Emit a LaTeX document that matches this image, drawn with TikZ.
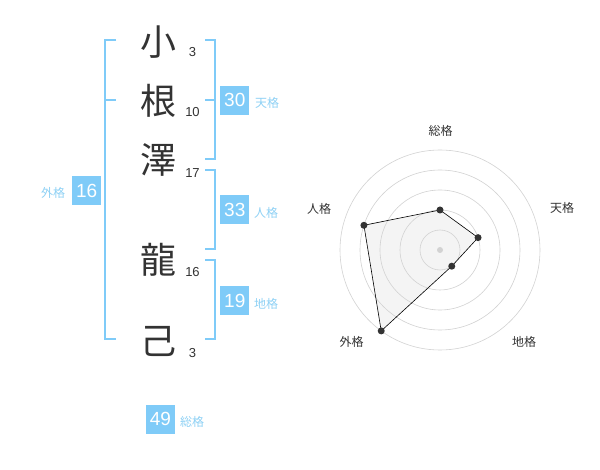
\documentclass[tikz,border=0pt]{standalone}
\usepackage{fontspec}
\setmainfont{Liberation Sans}
\newfontfamily\jp{Noto Sans CJK JP}
\definecolor{kaku}{HTML}{7FCBF8}
\definecolor{kakutext}{HTML}{8ED1F5}
\definecolor{ink}{HTML}{333333}
\begin{document}
\begin{tikzpicture}[
    x=1pt, y=-1pt,
    char/.style={font=\jp\fontsize{36}{36}\selectfont, text=ink, inner sep=0pt},
    strokes/.style={font=\fontsize{13}{13}\selectfont, text=ink, inner sep=0pt},
    numbox/.style={fill=kaku, text=white, minimum size=29pt, inner sep=0pt, font=\fontsize{19}{19}\selectfont},
    kakulabel/.style={font=\jp\fontsize{12}{12}\selectfont, text=kakutext, inner sep=0pt},
    bracket/.style={draw=kaku, line width=2pt},
    ring/.style={draw=gray!35, line width=0.6pt},
    axislabel/.style={font=\jp\fontsize{12}{12}\selectfont, text=ink, inner sep=0pt},
    vertex/.style={circle, fill=ink, inner sep=0pt, minimum size=7pt}
]
\useasboundingbox[fill=white] (0,0) rectangle (600,470);

% Name characters
\node[char] (c1) at (158,42) {小};
\node[char] (c2) at (158,101) {根};
\node[char] (c3) at (158,160) {澤};
\node[char] (c4) at (158,260) {龍};
\node[char] (c5) at (158,341) {己};

% Stroke counts
\node[strokes] (s1) at (192.5,52) {3};
\node[strokes] (s2) at (192.5,112) {10};
\node[strokes] (s3) at (192.5,173) {17};
\node[strokes] (s4) at (192.5,272) {16};
\node[strokes] (s5) at (192.5,353) {3};

% Brackets
\draw[bracket] (116,40) -- (104.5,40) -- (104.5,339) -- (116,339);
\draw[bracket] (104.5,100) -- (116,100);
\draw[bracket] (205,40) -- (214.5,40) -- (214.5,159) -- (205,159);
\draw[bracket] (205,100) -- (214.5,100);
\draw[bracket] (205,170) -- (214.5,170) -- (214.5,249) -- (205,249);
\draw[bracket] (205,260) -- (214.5,260) -- (214.5,339) -- (205,339);

% Scores
\node[numbox] (ten) at (234.8,100.3) {30};
\node[kakulabel] (tenl) at (267,103) {天格};
\node[numbox] (jin) at (234.8,210) {33};
\node[kakulabel] (jinl) at (266,213) {人格};
\node[numbox] (chi) at (234.8,300.8) {19};
\node[kakulabel] (chil) at (266,304) {地格};
\node[numbox] (gai) at (86.7,190.5) {16};
\node[kakulabel] (gail) at (53,193) {外格};
\node[numbox] (sou) at (160.5,419) {49};
\node[kakulabel] (soul) at (192,422) {総格};

% Radar chart
\begin{scope}[shift={(440,250)}, y=1pt]
  \coordinate (psou) at (90:40);
  \coordinate (pten) at (18:40);
  \coordinate (pchi) at (-54:20);
  \coordinate (pgai) at (234:100);
  \coordinate (pjin) at (162:80);
  \fill[gray!9] (psou) -- (pten) -- (pchi) -- (pgai) -- (pjin) -- cycle;
  \foreach \r in {20,40,60,80,100}
    \draw[ring] (0,0) circle (\r);
  \fill[gray!35] (0,0) circle (3);
  \draw[black, line width=0.6pt]
    (psou) -- (pten) -- (pchi) -- (pgai) -- (pjin) -- cycle;
  \foreach \p in {psou,pten,pchi,pgai,pjin}
    \node[vertex] at (\p) {};
  \node[axislabel] (asou) at (0.7,119.3) {総格};
  \node[axislabel] (aten) at (122,42) {天格};
  \node[axislabel] (ajin) at (-121,41.3) {人格};
  \node[axislabel] (agai) at (-88.3,-91.7) {外格};
  \node[axislabel] (achi) at (84,-92) {地格};
\end{scope}
\end{tikzpicture}
\end{document}
